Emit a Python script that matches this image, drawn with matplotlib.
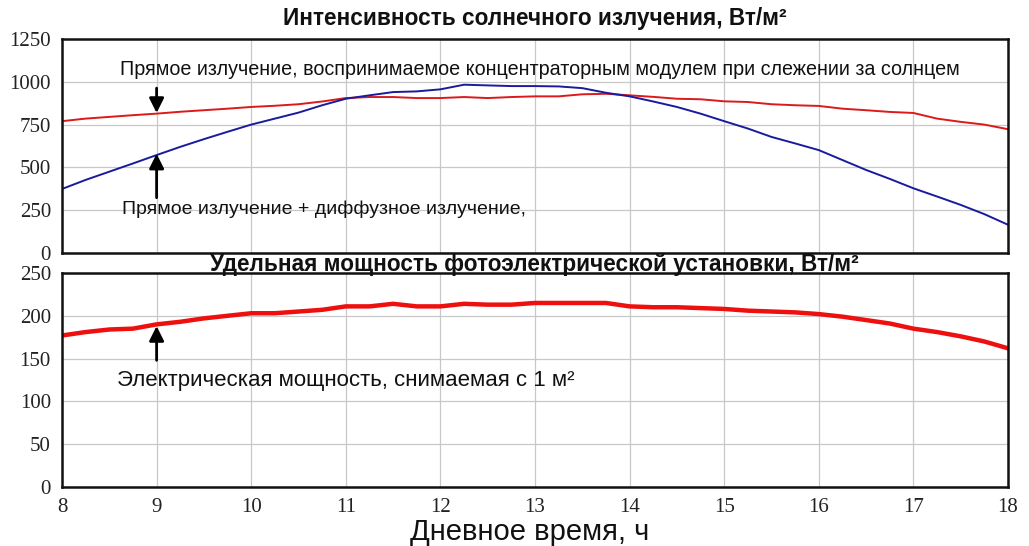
import matplotlib
matplotlib.use("Agg")
import matplotlib.pyplot as plt

# ---- data ----
hours = [8.0, 8.25, 8.5, 8.75, 9.0, 9.25, 9.5, 9.75, 10.0, 10.25, 10.5, 10.75,
         11.0, 11.25, 11.5, 11.75, 12.0, 12.25, 12.5, 12.75, 13.0, 13.25, 13.5,
         13.75, 14.0, 14.25, 14.5, 14.75, 15.0, 15.25, 15.5, 15.75, 16.0, 16.25,
         16.5, 16.75, 17.0, 17.25, 17.5, 17.75, 18.0]

direct_tracking = [770, 785, 795, 805, 814, 825, 834, 843, 853, 860, 869, 885,
                   905, 911, 911, 905, 905, 911, 905, 911, 915, 915, 927, 930,
                   921, 912, 901, 898, 886, 882, 869, 863, 859, 843, 834, 824,
                   818, 785, 766, 750, 723]

direct_diffuse = [374, 427, 475, 523, 572, 620, 665, 708, 750, 785, 820, 863,
                  901, 921, 940, 944, 956, 983, 979, 975, 975, 973, 963, 936,
                  915, 885, 853, 814, 770, 727, 678, 640, 601, 543, 485, 433,
                  378, 330, 281, 227, 165]

electric_power = [177, 181, 184, 185, 190, 193, 197, 200, 203, 203, 205, 207,
                  211, 211, 214, 211, 211, 214, 213, 213, 215, 215, 215, 215,
                  211, 210, 210, 209, 208, 206, 205, 204, 202, 199, 195, 191,
                  185, 181, 176, 170, 162]

x_ticks = [8, 9, 10, 11, 12, 13, 14, 15, 16, 17, 18]
top_yticks = [0, 250, 500, 750, 1000, 1250]
bot_yticks = [0, 50, 100, 150, 200, 250]

title_top = "Интенсивность солнечного излучения, Вт/м²"
title_bot = "Удельная мощность фотоэлектрической установки, Вт/м²"
label_tracking = "Прямое излучение, воспринимаемое концентраторным модулем при слежении за солнцем"
label_diffuse = "Прямое излучение + диффузное излучение,"
label_power = "Электрическая мощность, снимаемая с 1 м²"
xlabel = "Дневное время, ч"

SANS = ["Liberation Sans", "DejaVu Sans"]
SERIF = ["Liberation Serif", "DejaVu Serif"]

fig = plt.figure(figsize=(10.29, 5.46), dpi=100)
fig.patch.set_facecolor("white")

W, H = 1029, 546
left = 62 / W
width = (1008 - 62) / W
ax1 = fig.add_axes([left, 1 - 253 / H, width, 214 / H])
ax2 = fig.add_axes([left, 1 - 487 / H, width, 214 / H])


def style(ax, yticks, show_x):
    ax.set_xlim(8, 18)
    ax.set_ylim(yticks[0], yticks[-1])
    ax.set_xticks(x_ticks)
    ax.set_yticks(yticks)
    ax.grid(True, color="#c8c8c8", lw=0.9)
    ax.set_axisbelow(True)
    for s in ax.spines.values():
        s.set_linewidth(1.8)
        s.set_color("#111111")
    ax.tick_params(length=0, pad=8, labelsize=15)
    for lab in ax.get_yticklabels() + ax.get_xticklabels():
        lab.set_family(SERIF)
        lab.set_color("#222222")
    if not show_x:
        ax.set_xticklabels([])


style(ax1, top_yticks, False)
style(ax2, bot_yticks, True)

ax1.plot(hours, direct_tracking, color="#dc1a1a", lw=1.4)
ax1.plot(hours, direct_diffuse, color="#1a1a9e", lw=1.4)
ax2.plot(hours, electric_power, color="#ee0f0f", lw=3.2)

arrow = dict(arrowstyle="-|>", mutation_scale=22, lw=2.0, color="black",
             shrinkA=0, shrinkB=0)
ax1.annotate("", xy=(9, 818), xytext=(9, 963), arrowprops=arrow)
ax1.annotate("", xy=(9, 580), xytext=(9, 323), arrowprops=arrow)
ax2.annotate("", xy=(9, 188), xytext=(9, 148), arrowprops=arrow)

ax1.text(8.61, 1074, label_tracking, family=SANS, fontsize=14.2,
         ha="left", va="center", color="#111111")
ax1.text(8.63, 254, label_diffuse, family=SANS, fontsize=14.0,
         ha="left", va="center", color="#111111")
ax2.text(8.58, 125, label_power, family=SANS, fontsize=16.0,
         ha="left", va="center", color="#111111")

fig.text(535 / W, 1 - 18 / H, title_top, family=SANS, fontsize=16.3,
         fontweight="bold", ha="center", va="center", color="#111111")
fig.text(534 / W, 1 - 264 / H, title_bot, family=SANS, fontsize=16.3,
         fontweight="bold", ha="center", va="center", color="#111111")
fig.text(530 / W, 1 - 540 / H, xlabel, family=SANS, fontsize=21,
         ha="center", va="baseline", color="#111111")

fig.savefig("out.png", dpi=100, facecolor="white")
